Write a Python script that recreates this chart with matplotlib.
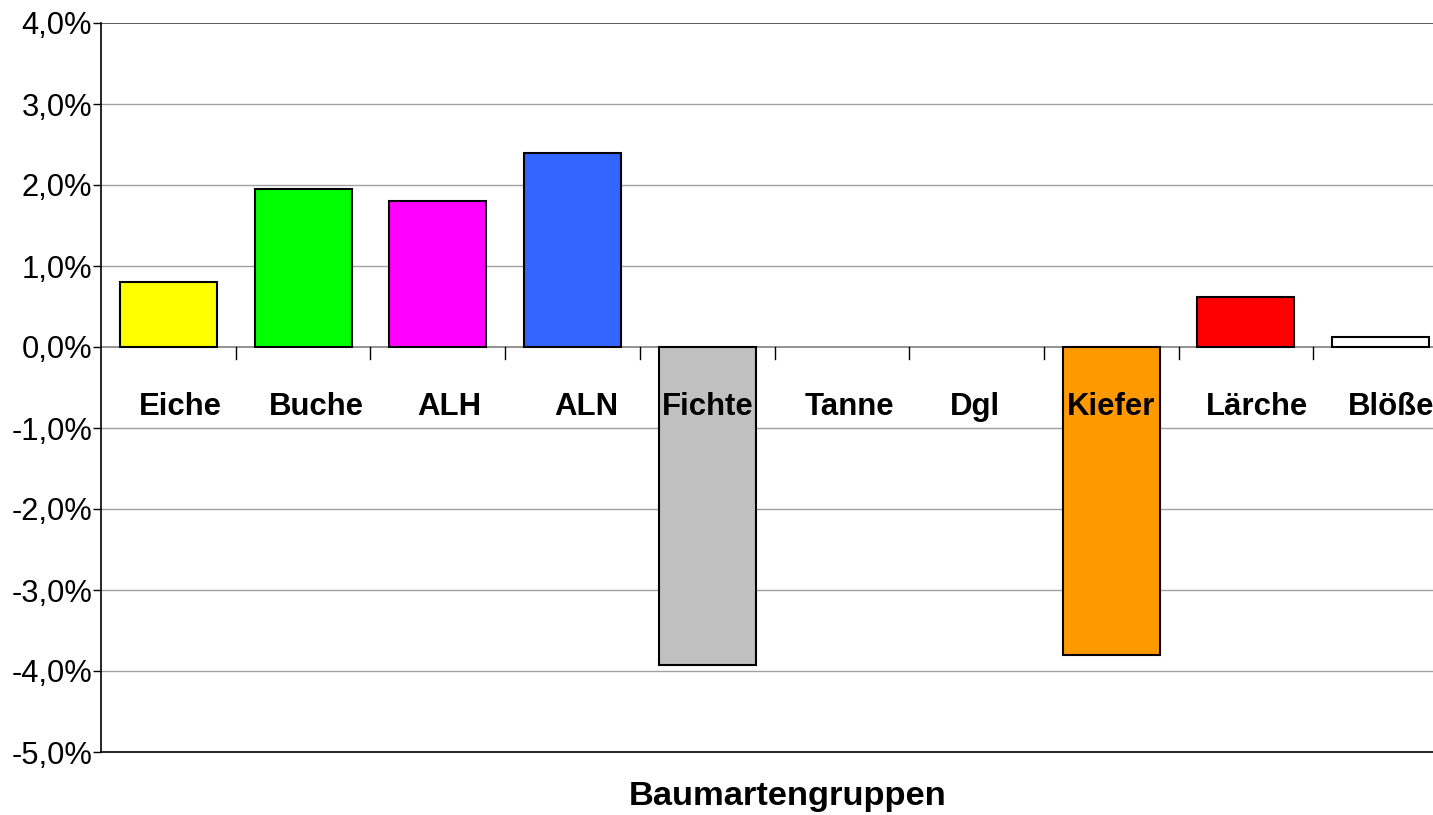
import matplotlib
matplotlib.use("Agg")
import matplotlib.pyplot as plt
from matplotlib.ticker import FuncFormatter, MultipleLocator
import numpy as np

categories = ["Eiche", "Buche", "ALH", "ALN", "Fichte", "Tanne", "Dgl", "Kiefer", "Lärche", "Blöße"]
values = [0.8, 1.95, 1.8, 2.4, -3.92, 0.0, 0.0, -3.8, 0.62, 0.12]
colors = ["#FFFF00", "#00FF00", "#FF00FF", "#3366FF", "#C0C0C0", "#C0C0C0", "#C0C0C0", "#FF9900", "#FF0000", "#FFFFFF"]
xlabel = "Baumartengruppen"

# layout: horizontal nudge of each category label (in category widths)
label_nudge = [0.09, 0.097, 0.085, 0.10, 0.007, 0.06, -0.015, 0.0, 0.085, 0.08]

plt.rcParams['font.family'] = ['Liberation Sans', 'DejaVu Sans']

W, H = 1433, 815
fig = plt.figure(figsize=(W / 100, H / 100), dpi=100)
left_px, right_px, top_px, bottom_px = 101, 1448, 23, 752
ax = fig.add_axes([left_px / W, 1 - bottom_px / H, (right_px - left_px) / W, (bottom_px - top_px) / H])

x = np.arange(len(categories))
for xi, v, c in zip(x, values, colors):
    if v != 0:
        ax.bar(xi, v, width=0.72, color=c, edgecolor="black", linewidth=1.5, zorder=3)

ax.set_xlim(-0.5, len(categories) - 0.5)
ax.set_ylim(-5, 4)
ax.yaxis.set_major_locator(MultipleLocator(1))
ax.yaxis.set_major_formatter(FuncFormatter(lambda v, p: f"{v:.1f}%".replace(".", ",")))
ax.tick_params(axis="y", labelsize=22.2, length=5.8, width=1, pad=0.6, colors="black")
ax.set_xticks([])

# grid lines
for yv in range(-4, 4):
    if yv == 0:
        continue
    ax.axhline(yv, color="#A0A0A0", linewidth=1, zorder=1)
ax.axhline(0, color="#808080", linewidth=1.2, zorder=2)
ax.axhline(4, color="#404040", linewidth=1.2, zorder=2)

for s in ["top", "right"]:
    ax.spines[s].set_visible(False)
ax.spines["left"].set_linewidth(1.2)
ax.spines["bottom"].set_linewidth(1.2)

# boundary ticks under the zero line
for b in np.arange(0.5, len(categories) - 0.5, 1.0):
    ax.plot([b, b], [0, -0.15], color="black", linewidth=1, zorder=4, clip_on=False)

for xi, cat, dx in zip(x, categories, label_nudge):
    ax.text(xi + dx, -0.74, cat, ha="center", va="center", fontsize=22.4, fontweight="bold", zorder=5)

fig.text(788 / W, 1 - 797 / H, xlabel, ha="center", va="center", fontsize=24.8, fontweight="bold")

fig.savefig("out.png", dpi=100)
